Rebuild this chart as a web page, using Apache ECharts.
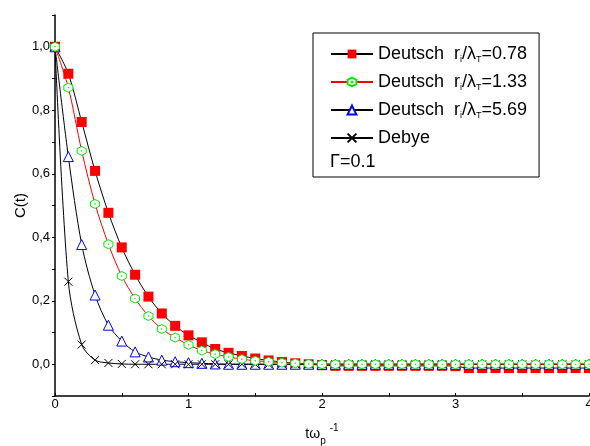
<!DOCTYPE html>
<html>
<head>
<meta charset="utf-8">
<script src="https://cdn.jsdelivr.net/npm/echarts@6/dist/echarts.min.js"></script>
<style>
  html, body { margin: 0; padding: 0; background: #fff; }
  #chart { width: 590px; height: 446px; }
</style>
</head>
<body>
<div id="chart"></div>
<script>
// time axis, t * omega_p^-1
const times = [0, 0.1, 0.2, 0.3, 0.4, 0.5, 0.6, 0.7, 0.8, 0.9, 1.0,
  1.1, 1.2, 1.3, 1.4, 1.5, 1.6, 1.7, 1.8, 1.9, 2.0,
  2.1, 2.2, 2.3, 2.4, 2.5, 2.6, 2.7, 2.8, 2.9, 3.0,
  3.1, 3.2, 3.3, 3.4, 3.5, 3.6, 3.7, 3.8, 3.9, 4.0]

const deutsch078 = [1.0, 0.915, 0.763, 0.609, 0.477, 0.368, 0.282, 0.213, 0.160, 0.121, 0.091,
  0.069, 0.048, 0.036, 0.026, 0.018, 0.012, 0.007, 0.003, 0.0, -0.003,
  -0.005, -0.005, -0.005, -0.005, -0.005, -0.005, -0.005, -0.005, -0.005, -0.006,
  -0.012, -0.012, -0.012, -0.012, -0.012, -0.012, -0.012, -0.012, -0.012, -0.012]

const deutsch133 = [1.0, 0.871, 0.672, 0.505, 0.378, 0.278, 0.207, 0.152, 0.111, 0.084, 0.061,
  0.043, 0.032, 0.023, 0.016, 0.011, 0.008, 0.005, 0.003, 0.001, 0.0,
  0, 0, 0, 0, 0, 0, 0, 0, 0, 0,
  0, 0, 0, 0, 0, 0, 0, 0, 0, 0]

const deutsch569 = [1.0, 0.654, 0.377, 0.218, 0.123, 0.073, 0.039, 0.023, 0.013, 0.008, 0.005,
  0.003, 0.001, 0, 0, 0, 0, 0, 0, 0, 0,
  0, 0, 0, 0, 0, 0, 0, 0, 0, 0,
  0, 0, 0, 0, 0, 0, 0, 0, 0, 0]

const debye = [1.0, 0.26, 0.062, 0.013, 0.004, 0.001, 0, 0, 0, 0, 0,
  0, 0, 0, 0, 0, 0, 0, 0, 0, 0,
  0, 0, 0, 0, 0, 0, 0, 0, 0, 0,
  0, 0, 0, 0, 0, 0, 0, 0, 0, 0]

const legendNames = ['d078', 'd133', 'd569', 'debye']
const legendLabels = {
  d078: 'Deutsch  r{sub|i}/λ{sub|T}=0.78',
  d133: 'Deutsch  r{sub|i}/λ{sub|T}=1.33',
  d569: 'Deutsch  r{sub|i}/λ{sub|T}=5.69',
  debye: 'Debye'
}

const hexPath = 'path://M10,0L18.66,5L18.66,15L10,20L1.34,15L1.34,5Z M9.4,9.4L10.6,9.4L10.6,10.6L9.4,10.6Z'
const crossPath = 'path://M0,0L10,10M10,0L0,10'

function pairs(ys) {
  return times.map((t, i) => [t, ys[i]])
}

const font = 'Liberation Sans, Arial, sans-serif'
const chart = echarts.init(document.getElementById('chart'))

chart.setOption({
  animation: false,
  backgroundColor: '#fff',
  grid: { left: 55, right: 1, top: 15, bottom: 50, outerBoundsMode: 'none', containLabel: false },
  legend: {
    data: legendNames,
    orient: 'vertical',
    left: 313,
    top: 33,
    padding: [11, 12, 29, 17],
    itemWidth: 42,
    itemHeight: 11,
    itemGap: 8,
    selectedMode: false,
    borderColor: '#000',
    borderWidth: 1,
    backgroundColor: '#fff',
    formatter: name => legendLabels[name],
    textStyle: {
      fontFamily: font,
      fontSize: 18,
      lineHeight: 20,
      color: '#000',
      rich: {
        sub: { fontFamily: font, fontSize: 9, lineHeight: 10, padding: [11, 0, 0, 0] }
      }
    }
  },
  graphic: [{
    type: 'text',
    left: 330,
    top: 153,
    z: 100,
    style: { text: 'Γ=0.1', font: '18px ' + font, fill: '#000' }
  }],
  xAxis: {
    type: 'value',
    min: 0,
    max: 4,
    interval: 0.5,
    name: 'tω{sub|p}{sup|-1}',
    nameLocation: 'middle',
    nameGap: 26,
    nameTextStyle: {
      fontFamily: font, fontSize: 14, color: '#000',
      rich: {
        sub: { fontFamily: font, fontSize: 10, padding: [14, 0, 0, 0] },
        sup: { fontFamily: font, fontSize: 10, padding: [0, 0, 12, 4] }
      }
    },
    axisLine: { onZero: false, lineStyle: { color: '#000', width: 1.5 } },
    axisTick: { inside: true, length: 3, lineStyle: { color: '#000' } },
    axisLabel: {
      fontFamily: font, fontSize: 13, color: '#000', margin: 2,
      formatter: v => (Math.abs(v - Math.round(v)) < 1e-6 ? String(Math.round(v)) : '')
    },
    splitLine: { show: false }
  },
  yAxis: {
    type: 'value',
    min: -0.1,
    max: 1.1,
    interval: 0.1,
    name: 'C(t)',
    nameLocation: 'middle',
    nameGap: 27,
    nameMoveOverlap: false,
    nameRotate: 90,
    nameTextStyle: { fontFamily: font, fontSize: 15, color: '#000' },
    axisLine: { show: true, onZero: false, lineStyle: { color: '#000', width: 1.5 } },
    axisTick: { show: true, length: 3, lineStyle: { color: '#000' } },
    axisLabel: {
      fontFamily: font, fontSize: 13, color: '#000', margin: 5,
      formatter: v => {
        const k = Math.round(v * 10)
        if (k < 0 || k > 10 || k % 2 !== 0) return ''
        return (k / 10).toFixed(1).replace('.', ',')
      }
    },
    splitLine: { show: false }
  },
  series: [
    {
      name: 'd078',
      type: 'line',
      data: pairs(deutsch078),
      smooth: 0.3,
      z: 2,
      symbol: 'rect',
      symbolSize: 10,
      showAllSymbol: true,
      lineStyle: { color: '#000', width: 1 },
      itemStyle: { color: '#ff0000', borderWidth: 0 }
    },
    {
      name: 'd133',
      type: 'line',
      data: pairs(deutsch133),
      smooth: 0.3,
      z: 4,
      symbol: hexPath,
      symbolSize: 9,
      showAllSymbol: true,
      lineStyle: { color: '#ff0000', width: 1 },
      itemStyle: { color: '#fff', borderColor: '#00ee00', borderWidth: 1 }
    },
    {
      name: 'd569',
      type: 'line',
      data: pairs(deutsch569),
      smooth: 0.3,
      z: 3,
      symbol: 'triangle',
      symbolSize: 10,
      showAllSymbol: true,
      lineStyle: { color: '#000', width: 1 },
      itemStyle: { color: '#fff', borderColor: '#0000ff', borderWidth: 1 }
    },
    {
      name: 'debye',
      type: 'line',
      data: pairs(debye),
      smooth: 0.3,
      z: 3,
      symbol: crossPath,
      symbolSize: 8,
      showAllSymbol: true,
      lineStyle: { color: '#000', width: 1 },
      itemStyle: { color: 'none', borderColor: '#000', borderWidth: 1 }
    }
  ]
})
</script>
</body>
</html>
